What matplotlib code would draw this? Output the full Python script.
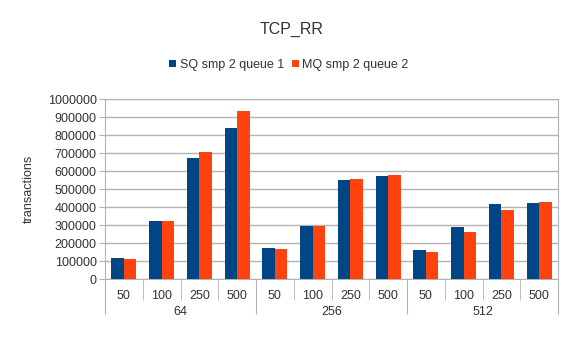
import numpy as np
import matplotlib.pyplot as plt
import matplotlib.transforms as mtransforms

plt.rcParams['font.family'] = ['Liberation Sans', 'DejaVu Sans']

# message sizes (outer groups) and request counts (inner categories)
groups = ['64', '256', '512']
sizes = ['50', '100', '250', '500']

series_names = ['SQ smp 2 queue 1', 'MQ smp 2 queue 2']
sq_values = [118000, 324000, 674000, 841000,
             174000, 293000, 552000, 574000,
             163000, 291000, 419000, 424000]
mq_values = [111000, 324000, 707000, 935000,
             169000, 293000, 557000, 580000,
             152000, 263000, 385000, 430000]
y_ticks = [0, 100000, 200000, 300000, 400000, 500000,
           600000, 700000, 800000, 900000, 1000000]
colors = ['#004586', '#ff420e']

text_color = '#333333'
grid_color = '#b3b3b3'

fig = plt.figure(figsize=(5.83, 3.42), dpi=100)
ax = fig.add_axes([105 / 583, 63 / 342, 453 / 583, 180 / 342])

n = len(groups) * len(sizes)
x = np.arange(n)
w = 1 / 3
ax.bar(x - w / 2, sq_values, width=w, color=colors[0], label=series_names[0], zorder=3)
ax.bar(x + w / 2, mq_values, width=w, color=colors[1], label=series_names[1], zorder=3)

ax.set_xlim(-0.5, n - 0.5)
ax.set_ylim(0, 1000000)
ax.set_yticks(y_ticks)
ax.set_yticklabels([str(t) for t in y_ticks])
ax.yaxis.grid(True, color=grid_color, linewidth=1, zorder=0)
ax.tick_params(axis='y', length=4, color=grid_color, labelsize=9, labelcolor=text_color, pad=2)
for s in ax.spines.values():
    s.set_color(grid_color)

# category separators: short ones inside a group, long ones between groups
ax.set_xticks(np.arange(-0.5, n, len(sizes)))
ax.set_xticks([b for b in np.arange(-0.5, n, 1) if (b + 0.5) % len(sizes) != 0], minor=True)
ax.tick_params(axis='x', which='major', length=25, color=grid_color, labelbottom=False)
ax.tick_params(axis='x', which='minor', length=15, color=grid_color, labelbottom=False)

trans = mtransforms.blended_transform_factory(ax.transData, ax.transAxes)
for i in range(n):
    ax.text(x[i], -17 / 180, sizes[i % len(sizes)], transform=trans,
            ha='center', va='center', fontsize=9, color=text_color)
for g, name in enumerate(groups):
    ax.text(g * len(sizes) + (len(sizes) - 1) / 2, -33 / 180, name, transform=trans,
            ha='center', va='center', fontsize=9, color=text_color)

ax.set_ylabel('transactions', fontsize=9, color=text_color)
ax.yaxis.set_label_coords(-70 / 453, 0.5)

fig.text(292 / 583, 1 - 29 / 342, 'TCP_RR', ha='center', va='center',
         fontsize=11.5, color=text_color)
fig.legend(loc='center', bbox_to_anchor=(289 / 583, 1 - 65 / 342), ncol=2,
           frameon=False, fontsize=9, handlelength=0.55, handleheight=0.55,
           handletextpad=0.3, columnspacing=0.6, labelcolor=text_color)

fig.savefig('out.png', dpi=100)
